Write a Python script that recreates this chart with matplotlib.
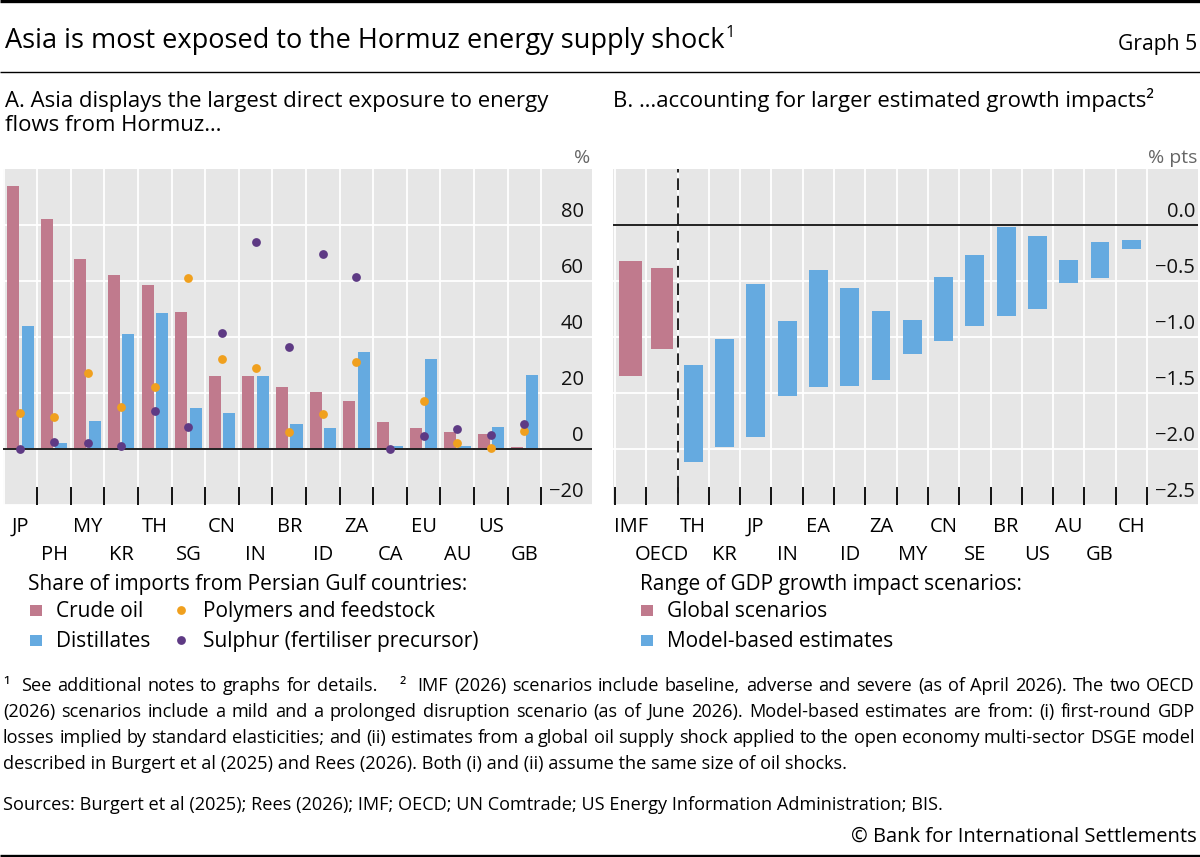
import matplotlib
matplotlib.use('Agg')
import matplotlib.pyplot as plt
import numpy as np
from matplotlib.transforms import ScaledTranslation, blended_transform_factory
from matplotlib.patches import Rectangle
from matplotlib.font_manager import FontProperties

plt.rcParams['font.family'] = ['Open Sans', 'DejaVu Sans']

# ---------------- data ----------------
countries_a = ['JP', 'PH', 'MY', 'KR', 'TH', 'SG', 'CN', 'IN', 'BR', 'ID', 'ZA', 'CA', 'EU', 'AU', 'US', 'GB']
crude_oil = [94, 82, 68, 62, 58.5, 49, 26, 26, 22, 20.5, 17, 9.5, 7.5, 6, 5.5, 0.6]
distillates = [44, 2, 10, 41, 48.5, 14.5, 13, 26, 9, 7.5, 34.5, 1, 32, 1, 8, 26.5]
polymers = [13, 11.5, 27, 15, 22, 61, 32, 29, 6, 12.5, 31, np.nan, 17, 2, 0.5, 6.5]
sulphur = [0, 2.5, 2, 1, 13.5, 8, 41.5, 74, 36.5, 69.5, 61.5, 0, 4.5, 7, 5, 9]
yticks_a = [-20, 0, 20, 40, 60, 80]

countries_b = ['IMF', 'OECD', 'TH', 'KR', 'JP', 'IN', 'EA', 'ID', 'ZA', 'MY', 'CN', 'SE', 'BR', 'US', 'AU', 'GB', 'CH']
impact_high = [-0.32, -0.38, -1.25, -1.02, -0.53, -0.86, -0.40, -0.56, -0.77, -0.85, -0.46, -0.27, -0.02, -0.10, -0.31, -0.15, -0.13]
impact_low = [-1.35, -1.11, -2.12, -1.98, -1.89, -1.53, -1.45, -1.44, -1.38, -1.15, -1.04, -0.90, -0.81, -0.75, -0.52, -0.47, -0.21]
n_global = 2
yticks_b = [-2.5, -2.0, -1.5, -1.0, -0.5, 0.0]

# ---------------- style ----------------
C_CRUDE = '#c07a8d'
C_DIST = '#65aae0'
C_POLY = '#f0a01e'
C_SULPH = '#5e3a84'
C_BG = '#e6e6e6'
C_TXT = '#000000'
C_UNIT = '#666666'

W, H, DPI = 1200, 857, 100
fig = plt.figure(figsize=(W / DPI, H / DPI), dpi=DPI)
fig.patch.set_facecolor('white')

ov = fig.add_axes([0, 0, 1, 1])
ov.set_xlim(0, W)
ov.set_ylim(H, 0)
ov.axis('off')

renderer = fig.canvas.get_renderer()


def text_w(s, size):
    fp = FontProperties(family=['Open Sans', 'DejaVu Sans'], size=size)
    w, _, _ = renderer.get_text_width_height_descent(s, fp, ismath=False)
    return w


TOP, BOT = 169, 505


def make_axes(x0, x1):
    return fig.add_axes([x0 / W, 1 - BOT / H, (x1 - x0) / W, (BOT - TOP) / H])


def style_axes(ax, n, xlim, ylim, yticks, fmt, label_x):
    ax.set_facecolor(C_BG)
    ax.set_xlim(*xlim)
    ax.set_ylim(*ylim)
    for s in ax.spines.values():
        s.set_visible(False)
    bounds = np.arange(n + 1) - 0.5
    for b in bounds:
        ax.axvline(b, color='white', lw=1.3, zorder=0.5)
    for yt in yticks:
        ax.axhline(yt, color='white', lw=1.3, zorder=0.5)
    ax.axhline(0, color='#222222', lw=1.4, zorder=2.5)
    ax.set_yticks([])
    trans = blended_transform_factory(ax.transAxes, ax.transData) + \
        ScaledTranslation(0, 8 / DPI, fig.dpi_scale_trans)
    for yt in yticks:
        ax.text(label_x, yt, fmt(yt), transform=trans, ha='right', va='baseline',
                fontsize=14.5, color='#111111')


def cat_labels(ax, labels):
    tr = blended_transform_factory(ax.transData, ov.transData)
    for i, lab in enumerate(labels):
        y = 532 if i % 2 == 0 else 560
        ov.text(i, y, lab, transform=tr, ha='center', va='baseline', fontsize=14.5, color=C_TXT)


def fmt_a(v):
    return f'{v:d}'.replace('-', '\u2212')


def fmt_b(v):
    return f'{v:.1f}'.replace('-', '\u2212')


# ---------------- panel A ----------------
axA = make_axes(3, 592)
nA = len(countries_a)
style_axes(axA, nA, (-0.518, 17.01), (-20, 100), yticks_a, fmt_a, 0.986)
xa = np.arange(nA)
axA.bar(xa - 0.215, crude_oil, width=0.36, color=C_CRUDE, zorder=2)
axA.bar(xa + 0.215, distillates, width=0.36, color=C_DIST, zorder=2)
axA.scatter(xa, polymers, s=40, color=C_POLY, zorder=3, linewidths=0)
axA.scatter(xa, sulphur, s=40, color=C_SULPH, zorder=4, linewidths=0)
axA.set_xticks(np.arange(nA) + 0.5)
axA.tick_params(axis='x', direction='in', length=13, width=1.4, color='#111111',
                labelbottom=False, bottom=True, top=False)
cat_labels(axA, countries_a)

# ---------------- panel B ----------------
axB = make_axes(613, 1198)
nB = len(countries_b)
style_axes(axB, nB, (-0.564, 18.13), (-2.5, 0.5), yticks_b, fmt_b, 0.995)
xb = np.arange(nB)
hi = np.array(impact_high)
lo = np.array(impact_low)
axB.bar(xb[:n_global], (hi - lo)[:n_global], bottom=lo[:n_global], width=0.72,
        color=C_CRUDE, zorder=2)
axB.bar(xb[n_global:], (hi - lo)[n_global:], bottom=lo[n_global:], width=0.6,
        color=C_DIST, zorder=2)
axB.axvline(n_global - 0.5, color='#222222', lw=1.4, ls=(0, (6, 3)), zorder=3)
axB.set_xticks(np.arange(nB + 1) - 0.5)
axB.tick_params(axis='x', direction='in', length=13, width=1.4, color='#111111',
                labelbottom=False, bottom=True, top=False)
cat_labels(axB, countries_b)

# ---------------- text & rules ----------------
ov.plot([0, W], [1.2, 1.2], color='black', lw=2.4, solid_capstyle='butt')
ov.plot([0, W], [71.7, 71.7], color='black', lw=1.0, solid_capstyle='butt')
ov.plot([0, W], [855.5, 855.5], color='black', lw=2.4, solid_capstyle='butt')

TFS = 19.5
title = 'Asia is most exposed to the Hormuz energy supply shock'
ov.text(5, 48.3, title, fontsize=TFS, va='baseline', color=C_TXT)
ov.text(5 + text_w(title, TFS) + 1.5, 37, '1', fontsize=12, va='baseline', color=C_TXT)
ov.text(1197, 50, 'Graph 5', fontsize=15.2, va='baseline', ha='right', color=C_TXT)

SFS = 15.9
ov.text(5, 106.7, 'A. Asia displays the largest direct exposure to energy', fontsize=SFS,
        va='baseline', color=C_TXT)
ov.text(5, 130.7, 'flows from Hormuz\u2026', fontsize=SFS, va='baseline', color=C_TXT)
ov.text(613, 106.7, 'B. \u2026accounting for larger estimated growth impacts\u00b2', fontsize=SFS,
        va='baseline', color=C_TXT)

ov.text(590, 163, '%', fontsize=14, va='baseline', ha='right', color=C_UNIT)
ov.text(1197, 163, '% pts', fontsize=14, va='baseline', ha='right', color=C_UNIT)

# legend A
LFS = 15
ov.text(28, 590, 'Share of imports from Persian Gulf countries:', fontsize=LFS, va='baseline')
ov.add_patch(Rectangle((30, 604.5), 11.7, 11.7, color=C_CRUDE, lw=0))
ov.text(56, 617, 'Crude oil', fontsize=LFS, va='baseline')
ov.add_patch(Rectangle((30, 634.5), 11.7, 11.7, color=C_DIST, lw=0))
ov.text(56, 647, 'Distillates', fontsize=LFS, va='baseline')
ov.scatter([181], [610], s=40, color=C_POLY, linewidths=0)
ov.text(203, 617, 'Polymers and feedstock', fontsize=LFS, va='baseline')
ov.scatter([181], [640], s=40, color=C_SULPH, linewidths=0)
ov.text(203, 647, 'Sulphur (fertiliser precursor)', fontsize=LFS, va='baseline')

# legend B
ov.text(640, 590, 'Range of GDP growth impact scenarios:', fontsize=LFS, va='baseline')
ov.add_patch(Rectangle((641, 604.5), 11.7, 11.7, color=C_CRUDE, lw=0))
ov.text(667, 617, 'Global scenarios', fontsize=LFS, va='baseline')
ov.add_patch(Rectangle((641, 634.5), 11.7, 11.7, color=C_DIST, lw=0))
ov.text(667, 647, 'Model-based estimates', fontsize=LFS, va='baseline')

# footnotes
FFS = 13.1


def justify(line, x0, x1, y):
    natural = text_w(line, FFS)
    nsp = line.count(' ')
    extra = (x1 - x0) - natural
    pos = 0
    while pos < len(line):
        if line[pos] == ' ':
            pos += 1
            continue
        end = line.find(' ', pos)
        if end == -1:
            end = len(line)
        word = line[pos:end]
        start = text_w(line[:end], FFS) - text_w(word, FFS) if pos > 0 else 0.0
        sp_before = line[:pos].count(' ')
        ov.text(x0 + start + extra * sp_before / nsp, y, word, fontsize=FFS, va='baseline')
        pos = end


notes = [
    '\u00b9  See additional notes to graphs for details.    \u00b2  IMF (2026) scenarios include baseline, adverse and severe (as of April 2026). The two OECD',
    '(2026) scenarios include a mild and a prolonged disruption scenario (as of June 2026). Model-based estimates are from: (i) first-round GDP',
    'losses implied by standard elasticities; and (ii) estimates from a global oil supply shock applied to the open economy multi-sector DSGE model',
    'described in Burgert et al (2025) and Rees (2026). Both (i) and (ii) assume the same size of oil shocks.',
]
for k, line in enumerate(notes):
    y = 690.7 + 26 * k
    if k < 3:
        justify(line, 3, 1195, y)
    else:
        ov.text(3, y, line, fontsize=FFS, va='baseline')
ov.text(3, 810, 'Sources: Burgert et al (2025); Rees (2026); IMF; OECD; UN Comtrade; US Energy Information Administration; BIS.',
        fontsize=FFS, va='baseline')
ov.text(1197, 841.7, '\u00a9 Bank for International Settlements', fontsize=14.5, va='baseline', ha='right')

fig.savefig('out.png', dpi=DPI, facecolor='white')
